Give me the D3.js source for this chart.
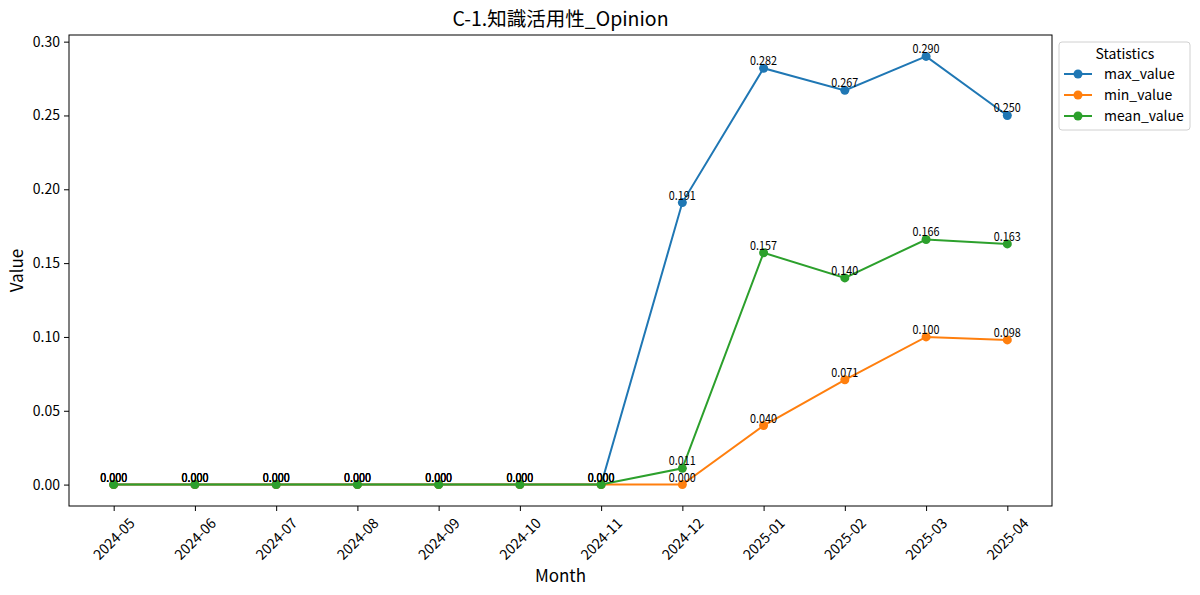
<!DOCTYPE html>
<html lang="ja">
<head>
<meta charset="UTF-8">
<title>C-1.知識活用性_Opinion</title>
<script src="https://cdn.jsdelivr.net/npm/d3@7/dist/d3.min.js"></script>
<style>
    body { margin: 0; background: #fff; }
    text { font-family: "Noto Sans CJK JP", "Noto Sans", sans-serif; fill: #000; }
    .tick line { stroke: #000; }
    .tick text { font-size: 14px; }
</style>
</head>
<body>
<script>
    // 月
    const months = ["2024-05", "2024-06", "2024-07", "2024-08", "2024-09", "2024-10",
        "2024-11", "2024-12", "2025-01", "2025-02", "2025-03", "2025-04"];
    // 各系列
    const maxValues = [0, 0, 0, 0, 0, 0, 0, 0.191, 0.282, 0.267, 0.290, 0.250];
    const minValues = [0, 0, 0, 0, 0, 0, 0, 0.000, 0.040, 0.071, 0.100, 0.098];
    const meanValues = [0, 0, 0, 0, 0, 0, 0, 0.011, 0.157, 0.140, 0.166, 0.163];
    const seriesNames = ["max_value", "min_value", "mean_value"];
    const yTicks = [0.00, 0.05, 0.10, 0.15, 0.20, 0.25, 0.30];

    const colors = ["#1f77b4", "#ff7f0e", "#2ca02c"];
    const seriesData = [maxValues, minValues, meanValues];

    const width = 1200, height = 595;
    const margin = {left: 69, right: 148, top: 35, bottom: 89};

    const svg = d3.select("body").append("svg")
        .attr("width", width).attr("height", height);

    // x: 両端に 5% の余白
    const pad = (months.length - 1) * 0.05;
    const x = d3.scaleLinear()
        .domain([-pad, months.length - 1 + pad])
        .range([margin.left, width - margin.right]);

    const allVals = maxValues.concat(minValues, meanValues);
    const yMin = d3.min(allVals), yMax = d3.max(allVals);
    const yPad = (yMax - yMin) * 0.05;
    const y = d3.scaleLinear()
        .domain([yMin - yPad, yMax + yPad])
        .range([height - margin.bottom, margin.top]);

    // 軸
    const xAxis = svg.append("g")
        .attr("transform", `translate(0,${height - margin.bottom})`)
        .call(d3.axisBottom(x).tickValues(d3.range(months.length))
            .tickFormat(i => months[i]).tickSize(5).tickPadding(3));
    xAxis.select(".domain").remove();
    // 中心を軸に 45 度回転
    xAxis.selectAll(".tick text")
        .attr("text-anchor", "middle")
        .attr("y", 0)
        .attr("dy", "0.35em")
        .attr("transform", "translate(0,33) rotate(-45)");

    const yAxis = svg.append("g")
        .attr("transform", `translate(${margin.left},0)`)
        .call(d3.axisLeft(y).tickValues(yTicks).tickFormat(d3.format(".2f"))
            .tickSize(5).tickPadding(4));
    yAxis.select(".domain").remove();

    // 枠
    svg.append("rect")
        .attr("x", margin.left).attr("y", margin.top)
        .attr("width", width - margin.left - margin.right)
        .attr("height", height - margin.top - margin.bottom)
        .attr("fill", "none").attr("stroke", "#000").attr("stroke-width", 1);

    // 線と点
    const line = d3.line().x((d, i) => x(i)).y(d => y(d));
    seriesData.forEach(function (vals, k) {
        svg.append("path")
            .datum(vals)
            .attr("fill", "none")
            .attr("stroke", colors[k])
            .attr("stroke-width", 2)
            .attr("d", line);
        svg.append("g").selectAll("circle")
            .data(vals).enter().append("circle")
            .attr("cx", (d, i) => x(i))
            .attr("cy", d => y(d))
            .attr("r", 4.5)
            .attr("fill", colors[k]);
    });

    // 値ラベル
    seriesData.forEach(function (vals) {
        svg.append("g").selectAll("text")
            .data(vals).enter().append("text")
            .attr("x", (d, i) => x(i))
            .attr("y", d => y(d) - 3)
            .attr("text-anchor", "middle")
            .attr("font-size", 12)
            .attr("transform", (d, i) => `translate(${x(i)},0) scale(0.9,1) translate(${-x(i)},0)`)
            .text(d => d.toFixed(3));
    });

    // タイトル
    svg.append("text")
        .attr("x", (margin.left + width - margin.right) / 2)
        .attr("y", 26)
        .attr("text-anchor", "middle")
        .attr("font-size", 19.5)
        .text("C-1.知識活用性_Opinion");

    svg.append("text")
        .attr("x", (margin.left + width - margin.right) / 2)
        .attr("y", 582)
        .attr("text-anchor", "middle")
        .attr("font-size", 17)
        .text("Month");

    svg.append("text")
        .attr("transform", `translate(23,${(margin.top + height - margin.bottom) / 2}) rotate(-90)`)
        .attr("text-anchor", "middle")
        .attr("font-size", 17)
        .text("Value");

    // 凡例
    const lg = svg.append("g").attr("transform", "translate(1059,42)");
    lg.append("rect")
        .attr("width", 131).attr("height", 88).attr("rx", 3)
        .attr("fill", "#fff").attr("stroke", "#d0d0d0");
    lg.append("text")
        .attr("x", 66).attr("y", 17)
        .attr("text-anchor", "middle").attr("font-size", 14)
        .text("Statistics");
    seriesNames.forEach(function (name, k) {
        const row = lg.append("g").attr("transform", `translate(0,${32 + k * 21})`);
        row.append("line").attr("x1", 5).attr("x2", 33)
            .attr("stroke", colors[k]).attr("stroke-width", 2);
        row.append("circle").attr("cx", 19).attr("r", 4.5).attr("fill", colors[k]);
        row.append("text").attr("x", 45).attr("y", 5)
            .attr("font-size", 14).text(name);
    });
</script>
</body>
</html>
